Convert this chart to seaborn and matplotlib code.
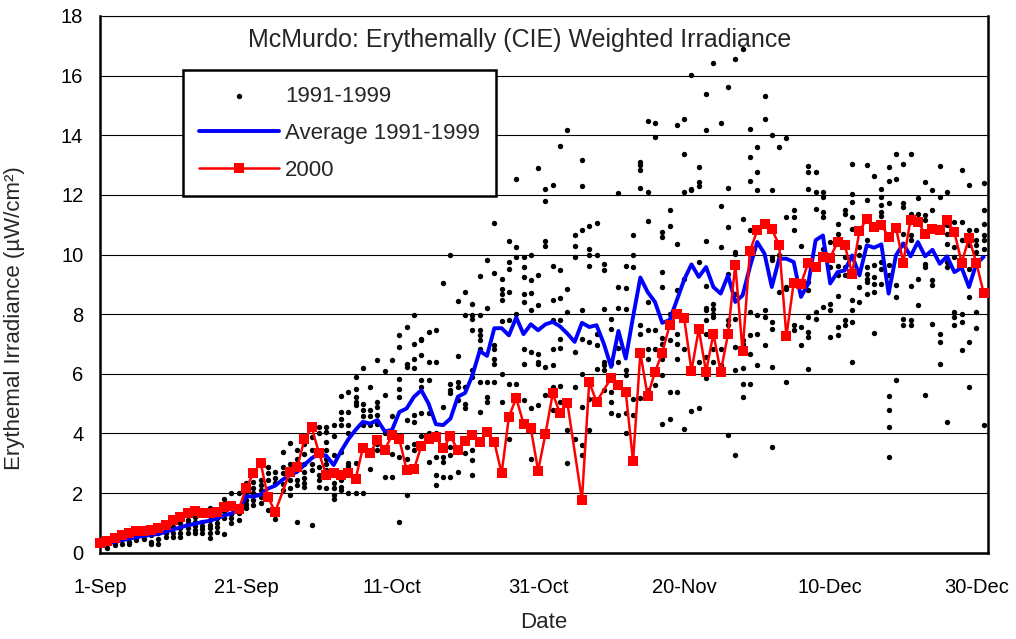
"""
McMurdo erythemally weighted irradiance: 1991-1999 daily values, their
average, and the year 2000, from 1 Sep to 31 Dec.
"""
import matplotlib

matplotlib.use("Agg")
import matplotlib.pyplot as plt
import pandas as pd
import seaborn as sns

START = "2000-09-01"

# 1991-1999 daily values, one list per day of the month
dots_sep = [
    [0.25, 0.30], [0.17, 0.30, 0.35], [0.26, 0.35, 0.42], [0.29, 0.45, 0.50],
    [0.29, 0.37, 0.50, 0.60], [0.43, 0.55, 0.65], [0.45, 0.60, 0.70],
    [0.29, 0.37, 0.60, 0.75], [0.30, 0.45, 0.65, 0.80], [0.54, 0.65, 0.80, 0.90],
    [0.54, 0.65, 0.85, 1.00], [0.54, 0.67, 0.82, 1.00], [0.65, 0.82, 0.99, 1.10],
    [0.65, 0.76, 0.90, 1.04, 1.20], [0.67, 0.78, 0.90, 1.04, 1.43],
    [0.48, 0.65, 0.82, 0.93, 1.10, 1.49], [0.71, 0.85, 0.99, 1.15, 1.30],
    [0.63, 1.15, 1.40, 1.65, 1.80], [1.00, 1.15, 1.30, 1.60, 1.99],
    [1.10, 1.33, 1.50, 1.99], [1.49, 1.54, 1.65, 1.77, 1.93, 2.35],
    [1.60, 1.77, 1.99, 2.16, 2.38], [1.66, 1.88, 2.10, 2.27, 2.44],
    [1.43, 2.44, 2.66, 2.88], [1.12, 2.33, 2.49, 2.72],
    [2.12, 2.32, 2.66, 2.88, 3.38], [1.93, 2.16, 2.44, 2.99, 3.69],
    [1.04, 2.27, 2.44, 2.99, 3.16, 3.46], [2.20, 2.33, 2.49, 2.72, 2.99, 3.32, 3.65],
    [0.93, 2.77, 2.99, 3.44, 3.89, 4.22],
]
dots_oct = [
    [2.20, 2.44, 2.60, 2.88, 4.00, 4.22], [2.16, 2.77, 2.99, 3.16, 3.44, 3.72, 4.05, 4.22],
    [1.80, 1.93, 2.16, 2.33, 3.28, 3.90, 4.27], [2.10, 2.21, 2.44, 3.38, 4.28, 4.50, 4.72, 5.25],
    [1.99, 2.90, 3.00, 4.00, 4.28, 4.72, 5.40], [2.00, 2.44, 3.00, 4.95, 5.06, 5.23, 5.50, 5.90],
    [2.00, 4.30, 4.60, 4.80, 5.00, 6.20], [2.80, 3.30, 4.30, 4.60, 4.80, 5.55],
    [3.44, 3.66, 4.33, 4.61, 4.90, 5.06, 6.46], [2.55, 3.40, 4.00, 5.30, 6.10],
    [2.55, 3.30, 4.00, 4.60, 6.46], [1.04, 3.20, 5.23, 5.50, 5.84, 6.90, 7.29],
    [1.93, 3.16, 3.55, 4.45, 6.23, 6.34, 7.57], [3.44, 3.66, 4.39, 4.61, 6.18, 6.51, 7.00, 7.96],
    [3.90, 4.67, 5.56, 5.80, 6.62, 7.13, 7.18], [3.05, 4.00, 4.67, 5.80, 6.40, 7.40],
    [2.27, 2.60, 3.22, 4.00, 6.40, 7.48], [2.55, 3.05, 3.22, 3.55, 4.90, 9.05],
    [2.55, 3.27, 3.55, 5.34, 5.45, 5.67, 9.97], [2.71, 3.38, 5.12, 5.56, 5.73, 6.59, 8.44],
    [3.33, 4.84, 5.00, 5.56, 7.98, 8.74], [2.60, 3.10, 3.44, 5.90, 6.12, 7.46, 7.85, 7.96, 8.33],
    [4.72, 5.73, 6.84, 7.13, 7.29, 7.46, 7.96, 9.27], [5.06, 5.23, 5.73, 8.20, 9.80],
    [5.73, 6.34, 6.51, 6.84, 6.96, 9.38, 11.06], [5.06, 6.01, 7.77, 8.49, 8.69, 8.86, 9.19],
    [3.83, 5.67, 7.79, 8.74, 9.53, 9.75, 10.47], [5.28, 5.67, 8.02, 9.92, 10.25, 12.54],
    [5.12, 6.34, 6.84, 8.41, 8.69, 9.25, 9.58, 9.92], [3.16, 4.84, 6.73, 8.13, 8.71, 9.14, 9.97],
    [4.95, 6.34, 6.40, 6.68, 8.30, 9.30, 12.90],
]
dots_nov = [
    [4.00, 5.28, 6.23, 10.30, 10.47, 11.80, 12.20], [4.77, 5.56, 6.31, 6.84, 7.79, 8.48, 9.63, 12.34],
    [5.06, 5.59, 6.87, 7.18, 7.81, 8.54, 9.47, 13.63], [3.00, 4.11, 8.07, 8.83, 14.16],
    [3.83, 5.56, 6.73, 9.91, 10.28, 10.66], [3.27, 3.60, 4.89, 6.00, 7.18, 8.13, 10.83, 12.31, 13.17],
    [4.11, 5.17, 7.07, 9.63, 9.97, 10.19, 10.95], [6.17, 6.96, 7.35, 9.99, 11.06],
    [5.45, 6.12, 6.28, 6.40, 8.18, 9.47, 9.69], [4.67, 5.06, 5.39, 6.34, 7.51, 7.85],
    [4.61, 6.40, 6.87, 8.21, 8.91, 12.06], [4.02, 4.67, 5.95, 6.12, 8.18, 8.88, 9.63],
    [4.61, 5.17, 9.58, 9.97, 10.66], [5.19, 7.35, 7.63, 12.23, 12.85, 12.99, 13.10],
    [5.45, 6.51, 6.84, 7.46, 8.41, 11.14, 12.11, 14.49], [5.62, 6.84, 7.46, 13.93, 14.41],
    [4.33, 5.95, 6.51, 7.01, 7.20, 8.91, 9.41, 10.58, 10.75], [4.50, 5.39, 7.13, 8.02, 10.97, 11.50],
    [5.39, 6.51, 7.01, 7.35, 8.80, 10.36, 14.35], [4.16, 6.84, 9.19, 12.09, 13.38, 14.55],
    [4.74, 12.15, 12.20, 16.02], [4.86, 6.40, 9.75, 12.29, 12.43, 12.93],
    [5.86, 6.56, 7.35, 7.79, 8.13, 8.21, 8.96, 10.47, 14.16, 15.39],
    [6.40, 6.84, 7.90, 8.02, 8.18, 8.35, 16.41], [6.28, 6.84, 10.25, 11.64, 14.41],
    [3.96, 7.63, 7.79, 9.36, 10.92, 12.23, 15.61], [3.27, 6.12, 6.90, 7.83, 8.69, 10.03, 10.10, 16.56],
    [5.23, 5.67, 6.20, 7.01, 7.12, 11.18, 16.90], [5.67, 6.68, 7.29, 8.07, 10.03, 10.81, 12.48, 13.26, 14.21],
    [6.31, 7.35, 7.96, 12.15, 12.76, 13.60],
]
dots_dec = [
    [6.96, 7.90, 8.13, 14.53, 15.33], [3.55, 6.23, 7.51, 7.74, 9.80, 9.91, 12.18, 14.01],
    [8.74, 9.97, 13.62], [5.73, 8.85, 8.91, 11.25, 13.90], [7.46, 7.63, 10.81, 11.25, 11.51],
    [6.96, 7.57, 10.30], [6.17, 7.23, 7.40, 7.90, 8.80, 9.08, 9.69, 12.20, 12.76, 12.96],
    [7.85, 8.07, 9.58, 11.53, 12.09, 12.76], [8.24, 10.19, 11.25, 11.42, 11.92, 12.09],
    [7.23, 8.13, 8.35, 9.58, 10.42], [7.29, 7.57, 8.60, 9.30, 9.60, 10.48, 10.70, 11.03],
    [7.63, 7.80, 9.30, 9.58, 9.92, 11.37, 11.48], [6.40, 7.74, 8.13, 8.47, 10.87, 11.26, 11.76, 12.04, 13.04],
    [8.41, 8.91, 9.97, 10.25, 10.81], [8.69, 9.08, 9.19, 9.36, 9.58, 10.48, 11.82, 12.99],
    [7.37, 8.74, 9.02, 9.25, 9.64, 10.92, 12.65], [9.02, 9.53, 9.75, 11.09, 11.28, 11.43, 11.65, 11.93, 12.21],
    [3.22, 4.22, 4.78, 5.25, 9.30, 9.64, 11.73, 12.46, 12.93], [5.78, 8.58, 8.97, 12.54, 13.36],
    [7.63, 7.85, 10.36, 10.70, 11.59, 11.73, 13.02], [7.63, 7.80, 8.94, 10.48, 10.64, 11.09, 11.37, 13.38],
    [8.30, 9.19, 11.09, 11.37, 11.90], [5.28, 9.58, 9.69, 11.15, 11.31, 12.43],
    [7.68, 8.97, 9.14, 11.50, 12.15], [6.32, 7.07, 7.33, 11.93, 12.96],
    [4.39, 9.58, 9.75, 10.36, 10.70, 10.98, 12.10], [7.63, 7.91, 8.07, 9.92, 10.25, 11.09],
    [6.79, 7.74, 8.02, 10.48, 11.09, 12.84], [5.56, 7.07, 8.58, 9.53, 10.31, 10.81, 12.32],
    [7.52, 8.07, 10.09, 10.31, 10.48, 10.81], [4.28, 10.20, 10.48, 10.64, 11.03, 11.48, 12.40],
]

# Average 1991-1999
avg_sep = [0.25, 0.30, 0.36, 0.42, 0.47, 0.52, 0.56, 0.60, 0.63, 0.70, 0.78, 0.85, 0.92, 0.97, 1.03,
           1.07, 1.15, 1.25, 1.32, 1.40, 1.90, 1.88, 1.95, 2.15, 2.25, 2.45, 2.60, 2.71, 2.95, 3.17]
avg_oct = [3.33, 3.25, 2.94, 3.40, 3.80, 4.12, 4.39, 4.33, 4.45, 4.07, 4.12, 4.72, 4.84, 5.23, 5.45, 5.00,
           4.31, 4.28, 4.50, 5.23, 5.36, 5.95, 6.77, 6.60, 7.53, 7.53, 7.29, 7.89, 7.33, 7.66, 7.46]
avg_nov = [7.66, 7.74, 7.59, 7.35, 7.07, 7.71, 7.57, 7.63, 7.01, 6.23, 7.44, 6.51, 7.91, 9.23, 8.74,
           8.41, 7.71, 7.80, 8.47, 9.16, 9.67, 9.25, 9.58, 8.91, 8.69, 9.30, 8.41, 8.63, 9.58, 10.42]
avg_dec = [10.03, 8.91, 9.86, 9.86, 9.75, 8.58, 9.03, 10.48, 10.64, 9.03, 9.41, 9.47, 9.97, 9.30, 10.31,
           10.23, 10.34, 8.69, 9.97, 10.37, 9.94, 10.42, 9.94, 10.16, 9.69, 9.94, 9.41, 9.56, 8.91, 9.69, 9.92]

# Year 2000 (None = no measurement)
y2000_sep = [0.31, 0.40, 0.48, 0.59, 0.67, 0.74, 0.74, 0.76, 0.82, 0.93, 1.10, 1.21, 1.32, 1.40, 1.34,
             1.32, 1.38, 1.54, 1.56, 1.45, 2.16, 2.66, 3.02, 1.86, 1.37, None, 2.71, 2.86, 3.80, 4.20]
y2000_oct = [3.33, 2.60, 2.66, 2.60, 2.66, 2.46, 3.52, 3.35, 3.78, 3.46, 3.94, 3.80, 2.77, 2.80, 3.58, 3.83,
             3.87, 3.50, 3.91, 3.44, 3.75, 3.94, 3.72, 4.05, 3.72, 2.66, 4.56, 5.19, 4.33, 4.17, 2.75]
y2000_nov = [3.98, 5.34, 4.67, 5.03, None, 1.77, 5.73, 5.06, None, 5.86, 5.62, 5.39, 3.07, 6.70, 5.25,
             6.06, 6.71, 7.63, 7.99, 7.87, 6.10, 7.50, 6.06, 7.35, 6.06, 7.33, 9.66, 6.76, 10.11, 10.81]
y2000_dec = [11.03, 10.84, 10.33, 7.26, 9.06, 9.02, 9.73, 9.58, 9.92, 9.90, 10.42, 10.31, 9.36, 10.78, 11.20,
             10.94, 11.00, 10.59, 10.90, 9.73, 11.17, 11.09, 10.70, 10.87, 10.81, 11.15, 10.75, 9.73, 10.55, 9.73, 8.72]

TICK_LABELS = ["1-Sep", "21-Sep", "11-Oct", "31-Oct", "20-Nov", "10-Dec", "30-Dec"]


def main() -> None:
    dates = pd.date_range(START, "2000-12-31", freq="D")

    rows = []
    for day, vals in enumerate(dots_sep + dots_oct + dots_nov + dots_dec):
        rows += [(dates[day], v) for v in vals]
    dots = pd.DataFrame(rows, columns=["date", "value"])

    avg = pd.DataFrame({"date": dates, "value": avg_sep + avg_oct + avg_nov + avg_dec})
    y2000 = pd.DataFrame({"date": dates, "value": y2000_sep + y2000_oct + y2000_nov + y2000_dec})
    y2000 = y2000.dropna()

    sns.set_style("white")
    plt.rcParams["font.family"] = ["Liberation Sans", "DejaVu Sans"]

    fig = plt.figure(figsize=(10.16, 6.39), dpi=100)
    ax = fig.add_axes([0.0984, 0.135, 0.874, 0.84])

    ax.yaxis.grid(True, color="black", linewidth=0.8)
    ax.set_axisbelow(True)

    sns.scatterplot(data=dots, x="date", y="value", color="black", s=15,
                    linewidth=0, label="1991-1999", ax=ax, zorder=2)
    sns.lineplot(data=avg, x="date", y="value", color="#0000FF", linewidth=2.8,
                 label="Average 1991-1999", ax=ax, zorder=3)
    sns.lineplot(data=y2000, x="date", y="value", color="#FF0000", linewidth=1.8,
                 marker="s", markersize=7.5, markeredgewidth=0, label="2000",
                 ax=ax, zorder=4, clip_on=False)

    ax.set_xlim(dates[0], dates[0] + pd.Timedelta(days=121.6))
    ax.set_ylim(0, 18)
    ax.set_yticks(range(0, 19, 2))
    ax.set_xticks(dates[::20])
    ax.set_xticklabels(TICK_LABELS)
    ax.tick_params(axis="x", direction="in", length=5, width=1.2, labelsize=14.5,
                   colors="black", pad=18)
    ax.tick_params(axis="y", direction="out", length=0, labelsize=14.5,
                   colors="black", pad=12)

    for side in ["left", "bottom", "right"]:
        ax.spines[side].set_linewidth(1.8)
        ax.spines[side].set_color("black")
    ax.spines["top"].set_linewidth(0.8)
    ax.spines["top"].set_color("black")

    ax.set_xlabel("Date", fontsize=16, labelpad=11)
    ax.set_ylabel("Erythemal Irradiance (µW/cm²)", fontsize=16)
    ax.yaxis.set_label_coords(-0.084, 0.437)
    ax.text(0.473, 0.955, "McMurdo: Erythemally (CIE) Weighted Irradiance",
            transform=ax.transAxes, ha="center", va="center", fontsize=18)

    leg = ax.legend(loc="upper left", bbox_to_anchor=(0.0935, 0.899), borderaxespad=0,
                    frameon=True, fancybox=False, edgecolor="black", framealpha=1,
                    fontsize=16, handlelength=3.6, labelspacing=0.72, borderpad=0.7,
                    handletextpad=0.3, scatterpoints=1, markerscale=1.0)
    leg.get_frame().set_linewidth(1.8)

    fig.savefig("out.png", dpi=100)
    plt.close(fig)


if __name__ == "__main__":
    main()
